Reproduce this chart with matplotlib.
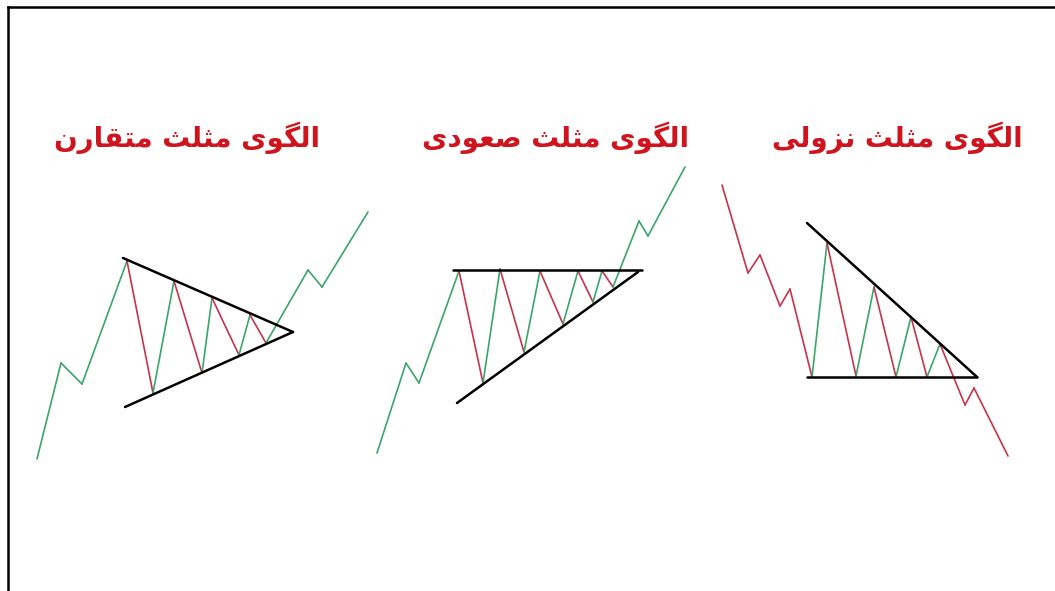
import matplotlib.pyplot as plt

# warna garis
HIJAU = '#3aa66a'
MERAH = '#c8324a'
JUDUL = '#d0141e'

# judul (teks Persia)
judul_simetris = "الگوی مثلث متقارن"
judul_naik = "الگوی مثلث صعودی"
judul_turun = "الگوی مثلث نزولی"

# 1. Data harga (x = posisi, y = harga) untuk tiap pola
# Segitiga simetris
sim_x = [37, 61, 82, 127, 153, 174, 202, 212, 239, 250, 266, 308, 322, 368]
sim_y = [132, 228, 207, 330, 198, 310, 218, 293, 236, 276, 248, 321, 304, 379]
sim_atas_x, sim_atas_y = [123, 293], [333, 259]
sim_bawah_x, sim_bawah_y = [125, 293], [184, 259]

# Segitiga naik
naik_x = [377, 406, 419, 459, 483, 500, 524, 540, 563, 578, 593, 602, 613, 639, 648, 685]
naik_y = [138, 228, 208, 320, 208, 322, 239, 320, 267, 320, 289, 320, 304, 370, 355, 424]
naik_atas_x, naik_atas_y = [453, 642], [321, 321]
naik_bawah_x, naik_bawah_y = [457, 638], [188, 319]

# Segitiga turun
turun_x = [722, 748, 760, 780, 790, 812, 827, 856, 874, 896, 911, 927, 940, 965, 974, 1008]
turun_y = [406, 318, 336, 285, 302, 214, 348, 215, 304, 214, 274, 214, 247, 186, 203, 135]
turun_atas_x, turun_atas_y = [807, 977], [368, 214]
turun_bawah_x, turun_bawah_y = [807, 977], [214, 214]


# 2. Arabic/Persian shaping manual (matplotlib tidak melakukan shaping)
BENTUK = {
    'ا': ('\uFE8D', '\uFE8E'),
    'ل': ('\uFEDD', '\uFEDE', '\uFEDF', '\uFEE0'),
    'گ': ('\uFB92', '\uFB93', '\uFB94', '\uFB95'),
    'و': ('\uFEED', '\uFEEE'),
    'ی': ('\uFBFC', '\uFBFD', '\uFBFE', '\uFBFF'),
    'م': ('\uFEE1', '\uFEE2', '\uFEE3', '\uFEE4'),
    'ث': ('\uFE99', '\uFE9A', '\uFE9B', '\uFE9C'),
    'ت': ('\uFE95', '\uFE96', '\uFE97', '\uFE98'),
    'ق': ('\uFED5', '\uFED6', '\uFED7', '\uFED8'),
    'ر': ('\uFEAD', '\uFEAE'),
    'ن': ('\uFEE5', '\uFEE6', '\uFEE7', '\uFEE8'),
    'ص': ('\uFEB9', '\uFEBA', '\uFEBB', '\uFEBC'),
    'ع': ('\uFEC9', '\uFECA', '\uFECB', '\uFECC'),
    'د': ('\uFEA9', '\uFEAA'),
    'ز': ('\uFEAF', '\uFEB0'),
}


def bentuk_teks(teks):
    hasil_kata = []
    for kata in teks.split(' '):
        huruf = []
        for i, ch in enumerate(kata):
            bentuk = BENTUK[ch]
            sambung_kanan = i > 0 and len(BENTUK[kata[i - 1]]) == 4
            sambung_kiri = i < len(kata) - 1 and len(bentuk) == 4
            if sambung_kanan and sambung_kiri:
                huruf.append(bentuk[3])
            elif sambung_kanan:
                huruf.append(bentuk[1])
            elif sambung_kiri:
                huruf.append(bentuk[2])
            else:
                huruf.append(bentuk[0])
        hasil_kata.append(''.join(huruf))
    # urutan visual kanan-ke-kiri
    return ' '.join(hasil_kata)[::-1]


# 3. Gambar jalur harga; di dalam segitiga warna ikut arah gerak
def gambar_jalur(ax, xs, ys, warna_tren, mulai, akhir):
    for i in range(len(xs) - 1):
        if mulai <= i <= akhir:
            warna = HIJAU if ys[i + 1] > ys[i] else MERAH
        else:
            warna = warna_tren
        ax.plot(xs[i:i + 2], ys[i:i + 2], color=warna, lw=1.2,
                solid_capstyle='round')


fig = plt.figure(figsize=(10.55, 5.91), dpi=100)
ax = fig.add_axes([8 / 1055, 0, 1047 / 1055, 584 / 591])
ax.set_xlim(8, 1055)
ax.set_ylim(0, 584)
ax.set_xticks([])
ax.set_yticks([])
for sisi in ['right', 'bottom']:
    ax.spines[sisi].set_visible(False)
for sisi in ['left', 'top']:
    ax.spines[sisi].set_linewidth(1.8)
    ax.spines[sisi].set_color('black')

gambar_jalur(ax, sim_x, sim_y, HIJAU, 3, 10)
gambar_jalur(ax, naik_x, naik_y, HIJAU, 3, 12)
gambar_jalur(ax, turun_x, turun_y, MERAH, 5, 12)

for gx, gy in [(sim_atas_x, sim_atas_y), (sim_bawah_x, sim_bawah_y),
               (naik_atas_x, naik_atas_y), (naik_bawah_x, naik_bawah_y),
               (turun_atas_x, turun_atas_y), (turun_bawah_x, turun_bawah_y)]:
    ax.plot(gx, gy, color='black', lw=1.8, solid_capstyle='round')

for teks, tx in [(judul_simetris, 187), (judul_naik, 555), (judul_turun, 897)]:
    ax.text(tx, 453, bentuk_teks(teks), ha='center', va='center',
            fontsize=20, fontweight='bold', color=JUDUL,
            family=['DejaVu Sans'])

fig.savefig('out.png', dpi=100)
